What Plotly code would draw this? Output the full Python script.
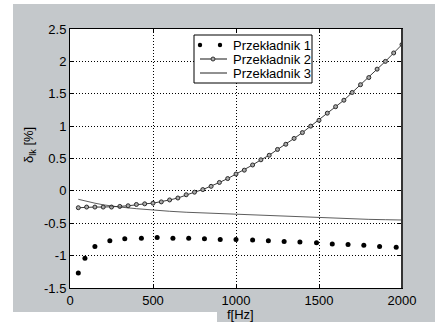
import plotly.graph_objects as go

# ---- data ----
s1_f = [50, 90, 150, 240, 330, 430, 525, 620, 715, 810, 905, 1000, 1100, 1195,
        1290, 1385, 1485, 1580, 1675, 1770, 1865, 1965]
s1_v = [-1.27, -1.04, -0.86, -0.77, -0.74, -0.73, -0.72, -0.73, -0.73, -0.74, -0.75,
        -0.75, -0.76, -0.77, -0.78, -0.79, -0.80, -0.82, -0.83, -0.84, -0.86, -0.87]

s2_f = [50, 100, 150, 200, 250, 300, 350, 400, 450, 500, 550, 600, 650, 700, 750, 800,
        850, 900, 950, 1000, 1050, 1100, 1150, 1200, 1250, 1300, 1350, 1400, 1450, 1500,
        1550, 1600, 1650, 1700, 1750, 1800, 1850, 1900, 1950, 2000]
s2_v = [-0.26, -0.25, -0.25, -0.25, -0.25, -0.24, -0.23, -0.21, -0.20, -0.19, -0.17,
        -0.14, -0.11, -0.06, -0.02, 0.02, 0.07, 0.13, 0.19, 0.26, 0.32, 0.40, 0.48, 0.55,
        0.64, 0.72, 0.81, 0.90, 1.00, 1.09, 1.20, 1.30, 1.40, 1.52, 1.64, 1.75, 1.88,
        2.00, 2.13, 2.26]

s3_f = [50, 100, 150, 200, 250, 300, 400, 500, 600, 700, 800, 900, 1000, 1100, 1200,
        1300, 1400, 1500, 1600, 1700, 1800, 1900, 2000]
s3_v = [-0.13, -0.165, -0.19, -0.215, -0.235, -0.25, -0.275, -0.30, -0.315, -0.33,
        -0.34, -0.35, -0.36, -0.37, -0.38, -0.395, -0.41, -0.42, -0.425, -0.43, -0.44,
        -0.445, -0.45]

names = ["Przekładnik 1", "Przekładnik 2", "Przekładnik 3"]
x_ticks = [0, 500, 1000, 1500, 2000]
y_ticks = [-1.5, -1, -0.5, 0, 0.5, 1, 1.5, 2, 2.5]
y_ticktext = ["-1.5", "-1", "-0.5", "0", "0.5", "1", "1.5", "2", "2.5"]

# ---- layout geometry (pixels) ----
W, H = 435, 322
L, R, T, B = 70, 402, 29, 288
GREY = "#c4c8cb"
FONT = "Liberation Sans, Arial, sans-serif"


def px(x):
    return (x - L) / (R - L)


def py(y):
    return (B - y) / (B - T)


fig = go.Figure()
fig.add_trace(go.Scatter(x=s1_f, y=s1_v, mode="markers", name=names[0],
                         marker=dict(color="black", size=5, line=dict(width=0))))
fig.add_trace(go.Scatter(x=s2_f, y=s2_v, mode="lines+markers", name=names[1],
                         line=dict(color="#3a3a3a", width=1),
                         marker=dict(size=4, color="#aaaaaa",
                                     line=dict(color="#2a2a2a", width=1))))
fig.add_trace(go.Scatter(x=s3_f, y=s3_v, mode="lines", name=names[2],
                         line=dict(color="#333333", width=0.8)))

shapes = []
# white margins of the scan
for (x0, y0, x1, y1) in [(0, 0, 13, H), (0, 0, W, 4), (0, 312, 217, H)]:
    shapes.append(dict(type="rect", xref="paper", yref="paper",
                       x0=px(x0), x1=px(x1), y0=py(y1), y1=py(y0),
                       fillcolor="white", line=dict(width=0), layer="below"))
# heavier right frame edge
shapes.append(dict(type="line", xref="paper", yref="paper",
                   x0=1, x1=1, y0=0, y1=1,
                   line=dict(color="#333333", width=2), layer="above"))
# manual legend box
shapes.append(dict(type="rect", xref="paper", yref="paper",
                   x0=px(194), x1=px(312), y0=py(83), y1=py(35),
                   fillcolor="white", line=dict(color="black", width=1), layer="above"))
rows = [45, 59, 73]
# row 1: dots
for cx in [200, 220]:
    shapes.append(dict(type="circle", xref="paper", yref="paper",
                       xsizemode="pixel", ysizemode="pixel",
                       xanchor=px(cx), yanchor=py(rows[0]),
                       x0=-2.2, x1=2.2, y0=-2.2, y1=2.2,
                       fillcolor="black", line=dict(width=0), layer="above"))
# row 2: grey line with circle
shapes.append(dict(type="line", xref="paper", yref="paper",
                   x0=px(200), x1=px(227), y0=py(rows[1]), y1=py(rows[1]),
                   line=dict(color="#8a8a8a", width=2), layer="above"))
shapes.append(dict(type="circle", xref="paper", yref="paper",
                   xsizemode="pixel", ysizemode="pixel",
                   xanchor=px(213), yanchor=py(rows[1]),
                   x0=-2, x1=2, y0=-2, y1=2,
                   fillcolor="#aaaaaa", line=dict(color="#333333", width=1), layer="above"))
# row 3: thin line
shapes.append(dict(type="line", xref="paper", yref="paper",
                   x0=px(200), x1=px(227), y0=py(rows[2]), y1=py(rows[2]),
                   line=dict(color="#222222", width=1), layer="above"))

annotations = []
for r, nm in zip(rows, names):
    annotations.append(dict(xref="paper", yref="paper", x=px(231), y=py(r),
                            text=nm, showarrow=False, xanchor="left", yanchor="middle",
                            font=dict(family=FONT, size=13, color="black")))
annotations.append(dict(xref="paper", yref="paper", x=px(240), y=py(314),
                        text="f[Hz]", showarrow=False, xanchor="center", yanchor="middle",
                        font=dict(family=FONT, size=13, color="black")))
annotations.append(dict(xref="paper", yref="paper", x=px(29), y=py(145),
                        text="δ<sub>lk</sub> [%]", showarrow=False, textangle=-90,
                        xanchor="center", yanchor="middle",
                        font=dict(family=FONT, size=13, color="black")))

fig.update_layout(
    width=W, height=H,
    margin=dict(l=L, r=W - R, t=T, b=H - B, pad=0),
    paper_bgcolor=GREY, plot_bgcolor="white",
    showlegend=False,
    shapes=shapes, annotations=annotations,
    font=dict(family=FONT, size=13, color="black"),
)
axis_common = dict(showline=True, linecolor="black", linewidth=1, mirror="ticks",
                   ticks="inside", ticklen=4, tickcolor="black",
                   showgrid=True, gridcolor="black", gridwidth=1, griddash="1px,2px",
                   zeroline=False, tickfont=dict(family=FONT, size=13, color="black"))
fig.update_xaxes(range=[0, 2000], tickvals=x_ticks, **axis_common)
fig.update_yaxes(range=[-1.5, 2.5], tickvals=y_ticks, ticktext=y_ticktext, **axis_common)

fig.write_html("out.html")
